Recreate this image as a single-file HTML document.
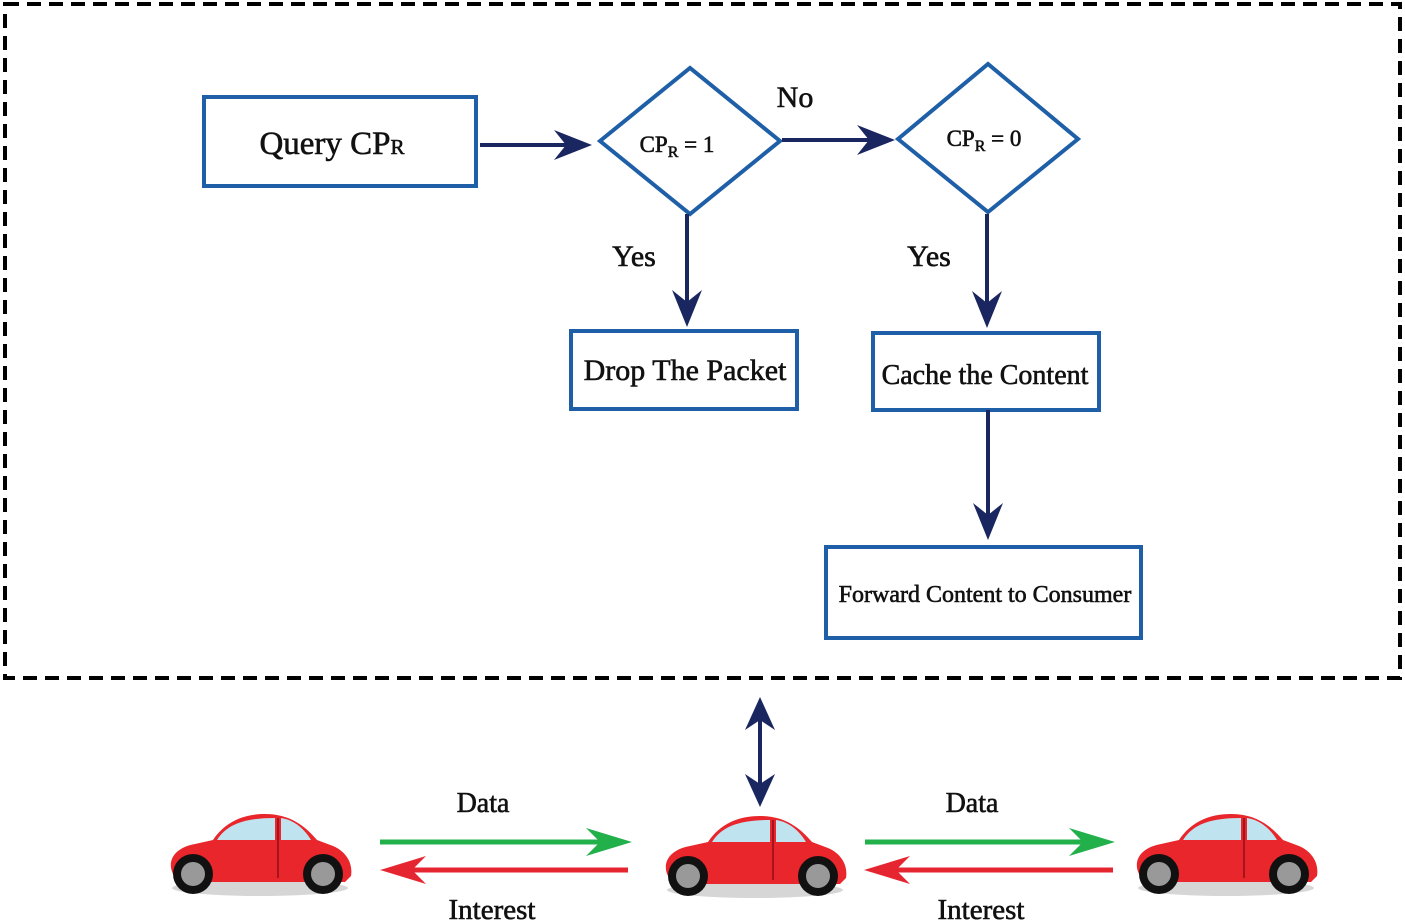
<!DOCTYPE html>
<html><head><meta charset="utf-8"><style>
html,body{margin:0;padding:0;background:#fff;}
svg{display:block;font-family:"Liberation Serif",serif;}
</style></head><body>
<svg width="1405" height="923" viewBox="0 0 1405 923" xmlns="http://www.w3.org/2000/svg">
<defs>
<g id="car">
  <ellipse cx="95" cy="76" rx="88" ry="8" fill="#bbb" opacity="0.6"/>
  <path d="M8 62 C2 50 8 36 30 32 L48 28 C60 10 78 2 100 2 C125 2 140 14 152 28 L168 34 C182 40 188 52 186 64 L180 70 L12 70 Z" fill="#e8262b"/>
  <path d="M52 28 C62 12 80 6 110 6 L110 28 Z" fill="#bfe4f0"/>
  <path d="M116 6 C130 8 140 18 146 28 L116 28 Z" fill="#bfe4f0"/>
  <line x1="113" y1="6" x2="113" y2="66" stroke="#a5141a" stroke-width="2"/>
  <circle cx="28" cy="62" r="20" fill="#111"/><circle cx="28" cy="62" r="12" fill="#999"/>
  <circle cx="158" cy="62" r="20" fill="#111"/><circle cx="158" cy="62" r="12" fill="#999"/>
</g>
</defs>
<rect x="5" y="4" width="1395" height="674" fill="none" stroke="#000" stroke-width="4" stroke-dasharray="14,8"/>
<g fill="none" stroke="#1f5fa8" stroke-width="4">
  <rect x="204" y="97" width="272" height="89"/>
  <polygon points="600,141 690,68 780,141 690,214"/>
  <polygon points="898,139 988,64 1078,139 988,212"/>
  <rect x="571" y="331" width="226" height="78"/>
  <rect x="873" y="333" width="226" height="77"/>
  <rect x="826" y="547" width="315" height="91"/>
</g>
<g stroke="#1a2660" stroke-width="4" fill="none">
  <line x1="480" y1="145" x2="570" y2="145"/>
  <line x1="782" y1="140" x2="875" y2="140"/>
  <line x1="687" y1="214" x2="687" y2="310"/>
  <line x1="987" y1="214" x2="987" y2="310"/>
  <line x1="988" y1="410" x2="988" y2="522"/>
  <line x1="760" y1="715" x2="760" y2="790"/>
</g>
<g fill="#1a2660">
  <path d="M592 145 L554 130 L566 145 L554 160 Z"/>
  <path d="M895 140 L857 125 L869 140 L857 155 Z"/>
  <path d="M687 327 L672 290 L687 302 L702 290 Z"/>
  <path d="M987 328 L972 291 L987 303 L1002 291 Z"/>
  <path d="M988 540 L973 503 L988 515 L1003 503 Z"/>
  <path d="M760 697 L745 730 L760 720 L775 730 Z"/>
  <path d="M760 807 L745 774 L760 784 L775 774 Z"/>
</g>
<g stroke-width="5">
  <line x1="380" y1="842" x2="610" y2="842" stroke="#22b04b"/>
  <line x1="865" y1="842" x2="1095" y2="842" stroke="#22b04b"/>
  <line x1="628" y1="870" x2="400" y2="870" stroke="#e52630"/>
  <line x1="1113" y1="870" x2="885" y2="870" stroke="#e52630"/>
</g>
<path d="M632 842 L586 828 L600 842 L586 856 Z" fill="#22b04b"/>
<path d="M1115 842 L1069 828 L1083 842 L1069 856 Z" fill="#22b04b"/>
<path d="M380 870 L426 856 L412 870 L426 884 Z" fill="#e52630"/>
<path d="M864 870 L910 856 L896 870 L910 884 Z" fill="#e52630"/>
<use href="#car" x="165" y="812"/>
<use href="#car" x="660" y="814"/>
<use href="#car" x="1131" y="812"/>
<g fill="#111" stroke="#111" stroke-width="0.6" text-anchor="middle">
  <text x="332" y="154" font-size="33">Query CP<tspan font-size="21">R</tspan></text>
  <text x="677" y="152" font-size="23">CP<tspan font-size="16" dy="5">R</tspan><tspan dy="-5"> = 1</tspan></text>
  <text x="984" y="146" font-size="23">CP<tspan font-size="16" dy="5">R</tspan><tspan dy="-5"> = 0</tspan></text>
  <text x="795" y="107" font-size="30">No</text>
  <text x="634" y="266" font-size="30">Yes</text>
  <text x="929" y="266" font-size="30">Yes</text>
  <text x="685" y="380" font-size="30">Drop The Packet</text>
  <text x="985" y="384" font-size="28">Cache the Content</text>
  <text x="985" y="602" font-size="24">Forward Content to Consumer</text>
  <text x="483" y="812" font-size="28">Data</text>
  <text x="972" y="812" font-size="28">Data</text>
  <text x="492" y="919" font-size="29">Interest</text>
  <text x="981" y="919" font-size="29">Interest</text>
</g>
</svg>
</body></html>
